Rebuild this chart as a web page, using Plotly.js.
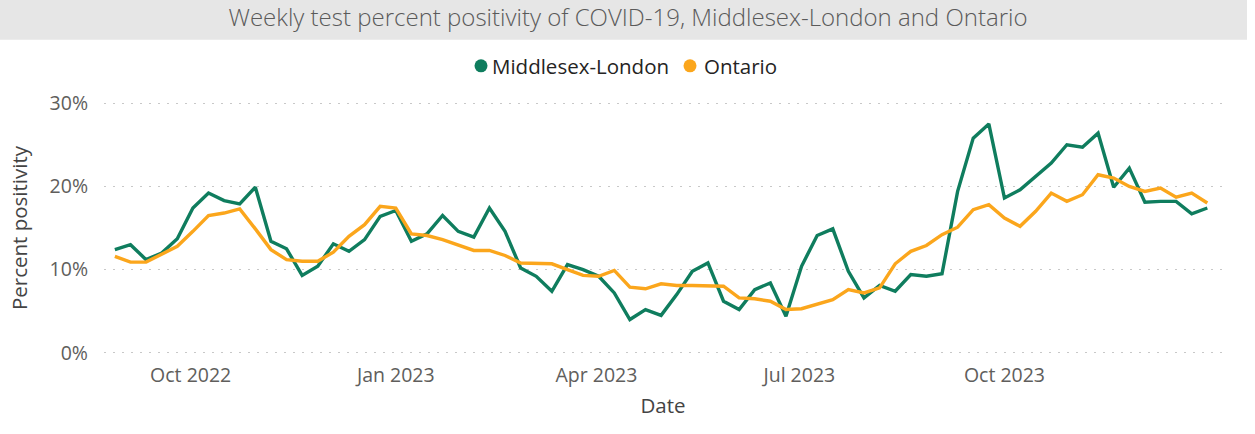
<!DOCTYPE html>
<html>
<head>
<meta charset="utf-8">
<script src="https://cdn.plot.ly/plotly-3.0.1.min.js"></script>
<style>html,body{margin:0;padding:0;background:#fff;}#chart{width:1255px;height:434px;}</style>
</head>
<body>
<div id="chart"></div>
<script>
const dates = [
  "2022-08-28","2022-09-04","2022-09-11","2022-09-18","2022-09-25","2022-10-02","2022-10-09","2022-10-16","2022-10-23","2022-10-30",
  "2022-11-06","2022-11-13","2022-11-20","2022-11-27","2022-12-04","2022-12-11","2022-12-18","2022-12-25","2023-01-01","2023-01-08",
  "2023-01-15","2023-01-22","2023-01-29","2023-02-05","2023-02-12","2023-02-19","2023-02-26","2023-03-05","2023-03-12","2023-03-19",
  "2023-03-26","2023-04-02","2023-04-09","2023-04-16","2023-04-23","2023-04-30","2023-05-07","2023-05-14","2023-05-21","2023-05-28",
  "2023-06-04","2023-06-11","2023-06-18","2023-06-25","2023-07-02","2023-07-09","2023-07-16","2023-07-23","2023-07-30","2023-08-06",
  "2023-08-13","2023-08-20","2023-08-27","2023-09-03","2023-09-10","2023-09-17","2023-09-24","2023-10-01","2023-10-08","2023-10-15",
  "2023-10-22","2023-10-29","2023-11-05","2023-11-12","2023-11-19","2023-11-26","2023-12-03","2023-12-10","2023-12-17","2023-12-24",
  "2023-12-31"
];
const middlesexLondon = [
  12.4,13.0,11.2,12.0,13.7,17.4,19.2,18.3,17.9,19.9,
  13.4,12.5,9.3,10.4,13.1,12.2,13.6,16.4,17.1,13.4,
  14.3,16.5,14.6,13.9,17.4,14.6,10.2,9.2,7.4,10.6,
  10.0,9.2,7.2,4.0,5.2,4.5,7.0,9.8,10.8,6.2,
  5.2,7.6,8.4,4.4,10.4,14.1,14.9,9.8,6.6,8.1,
  7.4,9.4,9.2,9.5,19.4,25.8,27.5,18.6,19.6,21.2,
  22.8,25.0,24.7,26.4,19.9,22.2,18.1,18.2,18.2,16.7,17.4
];
const ontario = [
  11.6,10.9,10.9,11.8,12.8,14.6,16.5,16.8,17.3,14.9,
  12.4,11.2,11.0,11.0,12.1,14.0,15.4,17.6,17.4,14.3,
  14.1,13.6,13.0,12.3,12.3,11.7,10.8,10.8,10.7,10.0,
  9.3,9.2,9.9,7.9,7.7,8.3,8.1,8.1,8.1,8.0,
  6.6,6.5,6.2,5.2,5.3,5.8,6.4,7.6,7.2,7.8,
  10.7,12.2,12.9,14.2,15.1,17.2,17.8,16.2,15.2,17.0,
  19.2,18.2,19.0,21.4,21.0,20.0,19.4,19.8,18.7,19.2,18.0
];
const seriesNames = ["Middlesex-London","Ontario"];
const xTickVals = ["2022-10-01","2023-01-01","2023-04-01","2023-07-01","2023-10-01"];
const xTickText = ["Oct 2022","Jan 2023","Apr 2023","Jul 2023","Oct 2023"];
const yTickVals = [0,10,20,30];
const yTickText = ["0%","10%","20%","30%"];

const GREEN = "#0F7D5E", ORANGE = "#FBA61C";
const colors = [GREEN, ORANGE];
const FONT = "'Segoe UI', 'Open Sans', sans-serif";

// plot area in pixels
const L = 104, R = 1222, T = 99.2, B = 357.5;
const PW = R - L, PH = B - T;
const px = x => (x - L) / PW;
const py = y => (B - y) / PH;

const traces = [
  {x: dates, y: middlesexLondon, type: "scatter", mode: "lines", name: seriesNames[0],
   line: {color: GREEN, width: 3.4}},
  {x: dates, y: ontario, type: "scatter", mode: "lines", name: seriesNames[1],
   line: {color: ORANGE, width: 3.4}}
];

// custom legend (dot + label) positioned like the reference
const legendDotX = [481, 690];
const legendTextX = [490, 702];
const legendY = 66;
const shapes = [{type: "rect", xref: "paper", yref: "paper",
    x0: px(0), x1: px(1247), y0: py(40), y1: py(0),
    fillcolor: "#E6E6E6", line: {width: 0}, layer: "below"}];
const annotations = [];
seriesNames.forEach((nm, i) => {
  shapes.push({type: "circle", xref: "paper", yref: "paper", xsizemode: "pixel", ysizemode: "pixel",
    xanchor: px(legendDotX[i]), yanchor: py(legendY), x0: -6.5, x1: 6.5, y0: -6.5, y1: 6.5,
    fillcolor: colors[i], line: {width: 0}});
  annotations.push({text: nm, xref: "paper", yref: "paper", x: px(legendTextX[i]), y: py(legendY),
    xanchor: "left", yanchor: "middle", showarrow: false,
    font: {family: FONT, size: 20.5, color: "#252423"}});
});

const layout = {
  width: 1255, height: 434,
  margin: {l: L, r: 1255 - R, t: T, b: 434 - B},
  paper_bgcolor: "#fff", plot_bgcolor: "#fff",
  font: {family: FONT, color: "#605E5C"},
  showlegend: false,
  title: {text: "Weekly test percent positivity of COVID-19, Middlesex-London and Ontario",
    font: {family: FONT, size: 24, color: "#5A5A5A", weight: 300},
    x: 628/1255, xanchor: "center", xref: "container", y: 1 - 18/434, yanchor: "middle", yref: "container"},
  shapes: shapes,
  annotations: annotations,
  xaxis: {
    type: "date", range: ["2022-08-23 03:00", "2024-01-06 14:00"],
    tickvals: xTickVals, ticktext: xTickText, ticks: "", showgrid: false, zeroline: false, showline: false,
    ticklabelstandoff: 4,
    tickfont: {family: FONT, size: 19.5, color: "#605E5C"},
    title: {text: "Date", font: {family: FONT, size: 20.5, color: "#444"}, standoff: 12}
  },
  yaxis: {
    range: [-0.5, 30.5], tickvals: yTickVals, ticktext: yTickText, ticks: "",
    showgrid: true, gridcolor: "#C8C8C8", gridwidth: 1, griddash: "2px,7px",
    zeroline: false, showline: false,
    ticklabelstandoff: 15,
    tickfont: {family: FONT, size: 19.5, color: "#605E5C"},
    title: {text: "Percent positivity", font: {family: FONT, size: 20.5, color: "#444"}, standoff: 16}
  }
};

Plotly.newPlot("chart", traces, layout, {staticPlot: true, displayModeBar: false});
</script>
</body>
</html>
